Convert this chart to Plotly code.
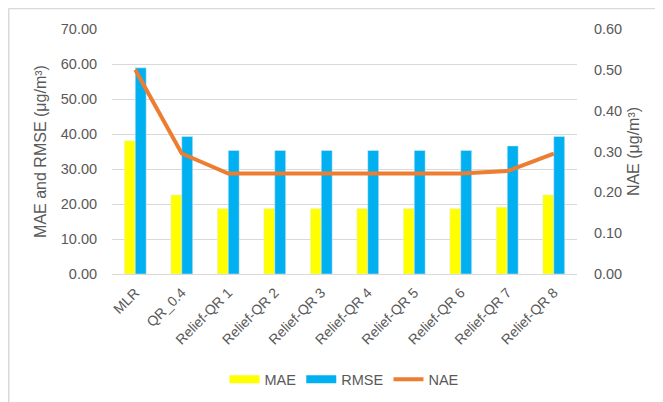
import plotly.graph_objects as go

categories = ["MLR", "QR_0.4", "Relief-QR 1", "Relief-QR 2", "Relief-QR 3", "Relief-QR 4",
              "Relief-QR 5", "Relief-QR 6", "Relief-QR 7", "Relief-QR 8"]
mae = [38.1, 22.6, 18.7, 18.7, 18.7, 18.7, 18.7, 18.7, 19.1, 22.6]
rmse = [58.9, 39.3, 35.3, 35.3, 35.3, 35.3, 35.3, 35.3, 36.6, 39.3]
nae = [0.50, 0.295, 0.246, 0.246, 0.246, 0.246, 0.246, 0.246, 0.252, 0.295]
left_ticks = [0, 10, 20, 30, 40, 50, 60, 70]
right_ticks = [0, 0.1, 0.2, 0.3, 0.4, 0.5, 0.6]

YELLOW = "#FFFF00"
BLUE = "#00B0F0"
ORANGE = "#ED7D31"
GRAY = "#595959"
FONT = "Liberation Sans"

fig = go.Figure()
fig.add_trace(go.Bar(x=categories, y=mae, name="MAE", marker_color=YELLOW, showlegend=False))
fig.add_trace(go.Bar(x=categories, y=rmse, name="RMSE", marker_color=BLUE, showlegend=False))
fig.add_trace(go.Scatter(x=categories, y=nae, name="NAE", mode="lines",
                         line=dict(color=ORANGE, width=4), yaxis="y2", showlegend=False))
# legend proxies
fig.add_trace(go.Scatter(x=[None], y=[None], mode="lines", name="MAE",
                         line=dict(color=YELLOW, width=8)))
fig.add_trace(go.Scatter(x=[None], y=[None], mode="lines", name="RMSE",
                         line=dict(color=BLUE, width=8)))
fig.add_trace(go.Scatter(x=[None], y=[None], mode="lines", name="NAE",
                         line=dict(color=ORANGE, width=4)))

fig.update_layout(
    width=655, height=394,
    margin=dict(l=104, r=86, t=21, b=128, autoexpand=False),
    paper_bgcolor="white", plot_bgcolor="white",
    font=dict(family=FONT, color=GRAY, size=14),
    barmode="group", bargap=0.53, bargroupgap=0,
    xaxis=dict(tickangle=-45, showgrid=False, showline=False, ticks="outside", ticklen=4,
               tickcolor="rgba(0,0,0,0)", automargin=False,
               tickfont=dict(size=14, color=GRAY)),
    yaxis=dict(range=[0, 70], tickvals=left_ticks, tickformat=".2f", automargin=False,
               gridcolor="#D9D9D9", gridwidth=1.3, zeroline=True, zerolinecolor="#D9D9D9",
               zerolinewidth=1.3, showline=False, ticks="outside", ticklen=11,
               tickcolor="rgba(0,0,0,0)", tickfont=dict(size=14.5, color=GRAY),
               title=dict(text="MAE and RMSE (μg/m³)", font=dict(size=16, color=GRAY), standoff=10)),
    yaxis2=dict(range=[0, 0.6], tickvals=right_ticks, tickformat=".2f", overlaying="y",
                side="right", showgrid=False, zeroline=False, showline=False, automargin=False,
                ticks="outside", ticklen=13, tickcolor="rgba(0,0,0,0)",
                tickfont=dict(size=14.5, color=GRAY),
                title=dict(text="NAE (μg/m³)", font=dict(size=16, color=GRAY), standoff=6)),
    legend=dict(orientation="h", x=0.5, xanchor="center", y=-0.43, yanchor="middle",
                font=dict(size=14.5, color=GRAY), bgcolor="rgba(0,0,0,0)"),
    shapes=[
        dict(type="line", xref="paper", yref="paper",
             x0=-0.2226, x1=-0.2226, y0=-0.6, y1=1.0837,
             line=dict(color="#D9D9D9", width=2), layer="below"),
        dict(type="line", xref="paper", yref="paper",
             x0=-0.2226, x1=1.2, y0=1.0837, y1=1.0837,
             line=dict(color="#D9D9D9", width=1.5), layer="below"),
    ],
)

fig.write_html("out.html")
